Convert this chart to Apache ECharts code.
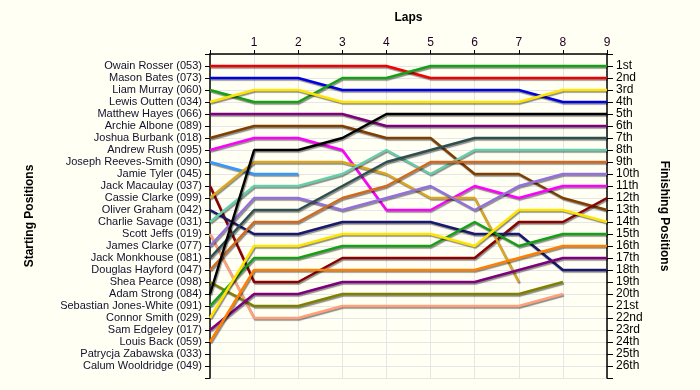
<!DOCTYPE html>
<html>
<head>
<meta charset="utf-8">
<script src="https://cdn.jsdelivr.net/npm/echarts@6/dist/echarts.min.js"></script>
<style>
html,body{margin:0;padding:0;background:#FFFFF4;}
#c{width:700px;height:390px;}
</style>
</head>
<body>
<div id="c"></div>
<script>
// Starting grid (top to bottom)
const startNames = [
  'Owain Rosser (053)','Mason Bates (073)','Liam Murray (060)','Lewis Outten (034)',
  'Matthew Hayes (066)','Archie Albone (089)','Joshua Burbank (018)','Andrew Rush (095)',
  'Joseph Reeves-Smith (090)','Jamie Tyler (045)','Jack Macaulay (037)','Cassie Clarke (099)',
  'Oliver Graham (042)','Charlie Savage (031)','Scott Jeffs (019)','James Clarke (077)',
  'Jack Monkhouse (081)','Douglas Hayford (047)','Shea Pearce (098)','Adam Strong (084)',
  'Sebastian Jones-White (091)','Connor Smith (029)','Sam Edgeley (017)','Louis Back (059)',
  'Patrycja Zabawska (033)','Calum Wooldridge (049)'
];
const finishLabels = ['1st','2nd','3rd','4th','5th','6th','7th','8th','9th','10th','11th','12th','13th',
  '14th','15th','16th','17th','18th','19th','20th','21st','22nd','23rd','24th','25th','26th'];
const laps = [0,1,2,3,4,5,6,7,8,9];

// Position at each lap (lap 0 = grid)
const owain    = [1,1,1,1,1,2,2,2,2,2];
const mason    = [2,2,2,3,3,3,3,3,4,4];
const liam     = [3,4,4,2,2,1,1,1,1,1];
const lewis    = [4,3,3,4,4,4,4,4,3,3];
const matthew  = [5,5,5,5,6,6,6,6,6,6];
const joshua   = [7,6,6,6,7,7,10,10,12,13];
const andrew   = [8,7,7,8,13,13,11,12,11,11];
const joseph   = [9,10,10];
const jackMac  = [11,19,19,17,17,17,17,14,14,12];
const cassie   = [12,9,9,9,10,12,12,19];
const oliver   = [13,15,15,14,14,14,15,15,18,18];
const charlie  = [14,11,11,10,8,10,8,8,8,8];
const scott    = [15,22,22,21,21,21,21,21,20];
const james    = [16,12,12,13,12,11,13,11,10,10];
const jackMon  = [17,13,13,11,9,8,7,7,7,7];
const douglas  = [18,14,14,12,11,9,9,9,9,9];
const shea     = [19,21,21,20,20,20,20,20,19];
const adam     = [20,8,8,7,5,5,5,5,5,5];
const sebastian= [21,17,17,16,16,16,14,16,15,15];
const connor   = [22,16,16,15,15,15,16,13,13,14];
const sam      = [23,20,20,19,19,19,19,18,17,17];
const louis    = [24,18,18,18,18,18,18,17,16,16];

const drivers = [
  ['Owain Rosser', owain, '#F00000'],
  ['Mason Bates', mason, '#0000E6'],
  ['Liam Murray', liam, '#16A016'],
  ['Lewis Outten', lewis, '#FFE400'],
  ['Matthew Hayes', matthew, '#7F007F'],
  ['Joshua Burbank', joshua, '#7F3F00'],
  ['Andrew Rush', andrew, '#FF00FF'],
  ['Joseph Reeves-Smith', joseph, '#3399FF'],
  ['Jack Macaulay', jackMac, '#8B0000'],
  ['Cassie Clarke', cassie, '#DAA520'],
  ['Oliver Graham', oliver, '#191970'],
  ['Charlie Savage', charlie, '#66CDAA'],
  ['Scott Jeffs', scott, '#FFA07A'],
  ['James Clarke', james, '#9370DB'],
  ['Jack Monkhouse', jackMon, '#2F4F4F'],
  ['Douglas Hayford', douglas, '#D2691E'],
  ['Shea Pearce', shea, '#808000'],
  ['Adam Strong', adam, '#000000'],
  ['Sebastian Jones-White', sebastian, '#16A016'],
  ['Connor Smith', connor, '#FFE400'],
  ['Sam Edgeley', sam, '#7F007F'],
  ['Louis Back', louis, '#FF8000']
];

const font = 'Liberation Sans, Arial, sans-serif';
const series = drivers.map(([name, pos, color]) => ({
  name: name,
  type: 'line',
  xAxisIndex: 0,
  yAxisIndex: 0,
  showSymbol: false,
  symbol: 'none',
  animation: false,
  data: pos.map((p, i) => [laps[i], p]),
  lineStyle: {
    color: color, width: 2.5,
    shadowColor: 'rgba(0,0,0,0.45)', shadowOffsetX: 1, shadowOffsetY: 1.5, shadowBlur: 1
  },
  itemStyle: { color: color }
}));

const chart = echarts.init(document.getElementById('c'), null, {renderer: 'canvas'});
chart.setOption({
  backgroundColor: '#FFFFF4',
  animation: false,
  grid: { left: 210, right: 93, top: 54, bottom: 12, containLabel: false },
  xAxis: {
    type: 'value', position: 'top', min: 0, max: 9, interval: 1,
    name: 'Laps', nameLocation: 'middle', nameGap: 30,
    nameTextStyle: { fontFamily: font, fontSize: 12, fontWeight: 'bold', color: '#000' },
    axisLine: { show: true, lineStyle: { color: '#000', width: 1.5 } },
    axisTick: { show: true, length: 4, lineStyle: { color: '#000' } },
    axisLabel: { fontFamily: font, fontSize: 12, color: '#200020', margin: 5,
      formatter: v => v === 0 ? '' : String(v) },
    splitLine: { show: true, lineStyle: { color: '#e6e6e6', width: 1 } }
  },
  yAxis: [
    {
      type: 'value', position: 'left', inverse: true, min: 0, max: 27, interval: 1,
      name: 'Starting Positions', nameLocation: 'middle', nameGap: 174, nameRotate: 90,
      nameTextStyle: { fontFamily: font, fontSize: 12, fontWeight: 'bold', color: '#000' },
      axisLine: { show: true, lineStyle: { color: '#000', width: 1.5 } },
      axisTick: { show: true, length: 5, lineStyle: { color: '#000' } },
      axisLabel: { fontFamily: font, fontSize: 11, color: '#101030', margin: 8,
        formatter: v => (v >= 1 && v <= startNames.length) ? startNames[v - 1] : '' },
      splitLine: { show: true, lineStyle: { color: '#e6e6e6', width: 1 } }
    },
    {
      type: 'value', position: 'right', inverse: true, min: 0, max: 27, interval: 1,
      name: 'Finishing Positions', nameLocation: 'middle', nameGap: 51, nameRotate: -90,
      nameTextStyle: { fontFamily: font, fontSize: 12, fontWeight: 'bold', color: '#000' },
      axisLine: { show: true, lineStyle: { color: '#000', width: 1.5 } },
      axisTick: { show: true, length: 6, lineStyle: { color: '#000' } },
      axisLabel: { fontFamily: font, fontSize: 12, color: '#000', margin: 9,
        formatter: v => (v >= 1 && v <= finishLabels.length) ? finishLabels[v - 1] : '' },
      splitLine: { show: false }
    }
  ],
  series: series
});
</script>
</body>
</html>
